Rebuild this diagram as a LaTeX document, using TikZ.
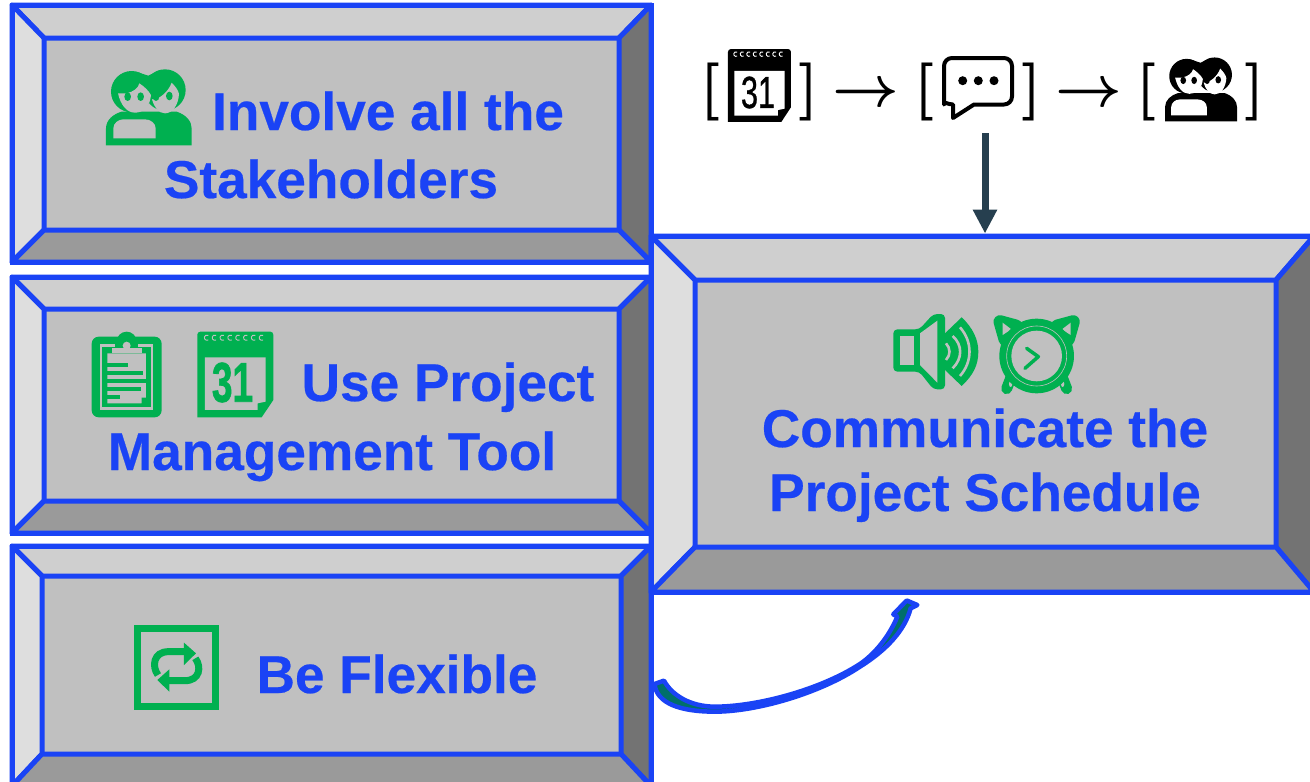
\documentclass[tikz,border=0pt]{standalone}
\usepackage{fontspec}
\setmainfont{Liberation Sans}[BoldFeatures={FakeBold=0.4}]
\newfontfamily\heavyfont{Liberation Sans}[BoldFeatures={FakeBold=1.5}]
\newfontfamily\midfont{Liberation Sans}[FakeBold=1]
\usetikzlibrary{arrows.meta,fit,calc}
\definecolor{bblue}{HTML}{1A43F5}
\definecolor{igreen}{HTML}{00B050}
\definecolor{ftop}{HTML}{CFCFCF}
\definecolor{fleft}{HTML}{DEDEDE}
\definecolor{fmid}{HTML}{C0C0C0}
\definecolor{fright}{HTML}{737373}
\definecolor{fbot}{HTML}{9A9A9A}
\definecolor{darrow}{HTML}{263F4F}
\definecolor{tealfill}{HTML}{006F6A}
\newcommand\heavymath[1]{\hbox{\boldmath$#1$}}
\tikzset{
  face/.style={draw=bblue,line width=5pt,line join=round},
  boxframe/.style={draw=bblue,line width=5pt,inner sep=0pt,rectangle},
  boxtext/.style={anchor=base,text=bblue,font=\fontsize{53.2}{60}\selectfont\bfseries,inner sep=0pt},
  mathmark/.style={scale=5.8,inner sep=0pt,text=black},
  bracketmark/.style={xscale=6.6,yscale=5.8,inner sep=0pt,text=black},
}
\newcommand\bevelbox[9]{%
  \fill[fmid] (#6,#7) rectangle (#8,#9);
  \path[face,fill=ftop] (#2,#3) -- (#4,#3) -- (#8,#7) -- (#6,#7) -- cycle;
  \path[face,fill=fleft] (#2,#3) -- (#6,#7) -- (#6,#9) -- (#2,#5) -- cycle;
  \path[face,fill=fright] (#4,#3) -- (#8,#7) -- (#8,#9) -- (#4,#5) -- cycle;
  \path[face,fill=fbot] (#2,#5) -- (#6,#9) -- (#8,#9) -- (#4,#5) -- cycle;
  \coordinate (#1tl) at (#2,#3);
  \coordinate (#1br) at (#4,#5);
  \node[boxframe,fit=(#1tl)(#1br)] (#1) {};
}
% people icon, drawn in the 3x coordinates of the crop
\newcommand\peopleicon[5]{%
  \begin{scope}[shift={(#1,#2)},scale=#3]
    \fill[#4] (155,95) circle[radius=62];
    \fill[#4] (255,90) circle[radius=62];
    \fill[#4] (170,36) -- (205,47) -- (240,30) -- (205,90) -- cycle;
    \fill[#4] (78,256) -- (78,205) .. controls (78,180) and (100,162) .. (125,155)
      -- (290,155) .. controls (320,165) and (335,185) .. (335,205) -- (335,256) -- cycle;
    \fill[#5] (114,100) -- (140,100) .. controls (160,95) and (175,85) .. (178,70)
      .. controls (190,78) and (205,90) .. (213,105)
      .. controls (210,140) and (190,158) .. (165,158)
      .. controls (140,158) and (122,135) .. (114,100) -- cycle;
    \fill[#5] (216,118) .. controls (240,118) and (265,95) .. (275,68)
      .. controls (285,78) and (295,90) .. (297,102)
      .. controls (295,135) and (278,160) .. (255,160)
      .. controls (235,160) and (222,140) .. (216,118) -- cycle;
    \fill[#4] (143,110) ellipse[x radius=10,y radius=13];
    \fill[#4] (182,110) ellipse[x radius=10,y radius=13];
    \fill[#4] (228,110) ellipse[x radius=10,y radius=13];
    \fill[#4] (268,108) ellipse[x radius=10,y radius=13];
    \fill[#5] (100,235) -- (100,205) .. controls (100,190) and (115,178) .. (130,178)
      -- (195,178) .. controls (212,178) and (227,190) .. (227,205) -- (227,235) -- cycle;
  \end{scope}
}
% calendar icon, drawn in the 3x coordinates of the crop
\newcommand\calicon[6]{%
  \begin{scope}[shift={(#1,#2)},xscale=#3,yscale=#4]
    \fill[#5,rounded corners=3pt] (352,292) -- (352,35) -- (580,35) -- (580,150) [sharp corners] -- (580,240) -- (545,292) -- cycle;
    \fill[#6] (375,270) -- (375,112) -- (557,112) -- (557,245) -- (533,250) -- (533,270) -- cycle;
    \foreach \k in {0,...,7}{
      \draw[#6,line width=0.9pt] ({385+\k*23.5},60) arc[start angle=60,end angle=300,radius=8];
    }
  \end{scope}
}
\begin{document}
\begin{tikzpicture}[x=1pt,y=-1pt]
\useasboundingbox (0,0) rectangle (1310,782);
\clip (0,0) rectangle (1310,782);
\fill[white] (0,0) rectangle (1310,782);

\bevelbox{boxa}{12}{5}{651}{262}{44}{38}{619}{230}
\bevelbox{boxb}{12}{277}{651}{533}{44}{309}{619}{501}
\bevelbox{boxc}{12}{546}{651}{786}{42}{576}{621}{754}
\bevelbox{boxd}{651}{236}{1314}{592}{695}{280}{1276}{547}

% box texts
\node[boxtext] (t1) at (388,130) {Involve all the};
\node[boxtext] (t2) at (331,198) {Stakeholders};
\node[boxtext] (t3) at (448,401) {Use Project};
\node[boxtext] (t4) at (332,470) {Management Tool};
\node[boxtext] (t5) at (397,693) {Be Flexible};
\node[boxtext] (t6) at (985,447) {Communicate the};
\node[boxtext] (t7) at (985,511) {Project Schedule};

% green icons
\peopleicon{80}{60}{0.3333}{igreen}{fmid}
\calicon{80}{320}{0.3333}{0.3333}{igreen}{fmid}
\node[text=igreen,font=\fontsize{56}{56}\selectfont\heavyfont\bfseries,xscale=.66,inner sep=0pt] (g31) at (232.5,382.5) {31};

% clipboard
\begin{scope}[shift={(80,320)},scale=0.3333]
  \fill[igreen,rounded corners=7pt] (35,50) rectangle (245,292);
  \fill[igreen] (140,65) circle[radius=30];
  \draw[fmid,line width=2.4pt] (62.5,77) rectangle (216,266);
  \fill[igreen] (105,60) rectangle (175,90);
  \fill[fmid] (82,100) -- (198,100) -- (198,233) -- (185,250) -- (82,250) -- cycle;
  \fill[igreen] (185,258) -- (185,233) -- (200,233) -- cycle;
  \fill[fmid] (97,85) rectangle (185,98);
  \fill[fmid] (140,77) circle[radius=12];
  \fill[igreen] (82,130) rectangle (143,142);
  \fill[igreen] (82,153) rectangle (190,165);
  \fill[igreen] (82,177) rectangle (198,189);
  \fill[igreen] (82,200) rectangle (182,212);
  \fill[igreen] (82,224) rectangle (120,236);
\end{scope}

% repeat icon
\begin{scope}[shift={(120,610)},scale=0.3333]
  \draw[igreen,line width=7pt] (52.5,54.5) rectangle (287.5,289.5);
  \draw[igreen,line width=7pt] (114,195) .. controls (95,170) and (100,125) .. (145,125) -- (195,125);
  \fill[igreen] (192,98) -- (228,130) -- (192,165) -- cycle;
  \draw[igreen,line width=7pt] (226,145) .. controls (245,170) and (240,212) .. (195,212) -- (145,212);
  \fill[igreen] (148,178) -- (112,210) -- (148,245) -- cycle;
\end{scope}

% speaker and clock
\begin{scope}[shift={(880,300)},scale=0.3333]
  \fill[igreen,rounded corners=4pt] (40,88) -- (118,88) -- (160,42) -- (195,42) -- (195,268) -- (160,268) -- (118,215) -- (40,215) -- cycle;
  \fill[fmid] (60,108) rectangle (102,195);
  \fill[fmid] (120,100) -- (172,62) -- (172,248) -- (120,195) -- cycle;
  \fill[igreen] (195,100) -- (245,52) .. controls (280,85) and (295,120) .. (295,155)
     .. controls (295,195) and (280,225) .. (245,258) -- (195,210) -- cycle;
  \draw[fmid,line width=2.6pt] (240,82) .. controls (278,125) and (278,185) .. (240,228);
  \draw[fmid,line width=2.6pt] (218,108) .. controls (248,135) and (248,175) .. (218,205);
  \draw[fmid,line width=2.6pt] (198,130) .. controls (212,145) and (212,165) .. (198,180);
  % clock
  \foreach \s in {-1,1}{
    \begin{scope}[shift={(470,0)},xscale=\s]
      \draw[igreen,line width=13pt,line join=round,fill=igreen] (-110,65) -- (-62,78) -- (-95,118) -- cycle;
      \fill[fmid] (-102,68) -- (-76,88) -- (-102,105) -- cycle;
      \draw[igreen,line width=11pt,line cap=round] (-78,235) -- (-90,266);
      \fill[fmid] (-78,252) ellipse[x radius=5,y radius=9];
    \end{scope}
  }
  \fill[igreen] (470,168) circle[radius=112];
  \fill[fmid] (470,168) circle[radius=76];
  \draw[fmid,line width=0.6pt] (470,168) circle[radius=90];
  \draw[igreen,line width=3.5pt,line cap=round,line join=round] (440,145) -- (475,170) -- (435,205);
\end{scope}

% top row
\node[bracketmark] (b1) at (710.5,91.5) {\heavymath{\mathbf{[}}};
\node[bracketmark] (b2) at (809.5,91.5) {\heavymath{\mathbf{]}}};
\node[mathmark] (a1) at (865.5,95) {\heavymath{\rightarrow}};
\node[bracketmark] (b3) at (924.5,91.5) {\heavymath{\mathbf{[}}};
\node[bracketmark] (b4) at (1032.5,91.5) {\heavymath{\mathbf{]}}};
\node[mathmark] (a2) at (1089,95) {\heavymath{\rightarrow}};
\node[bracketmark] (b5) at (1146.5,91.5) {\heavymath{\mathbf{[}}};
\node[bracketmark] (b6) at (1255,91.5) {\heavymath{\mathbf{]}}};

\calicon{630.7}{39.06}{0.2763}{0.284}{black}{white}
\node[text=black,font=\fontsize{45}{45}\selectfont\midfont,xscale=.68,inner sep=0pt] (k31) at (758,92.5) {31};

% chat bubble
\draw[black,line width=4pt,line join=round,rounded corners=8pt]
  (974,104.5) -- (1012,104.5) -- (1012,58) -- (944,58) -- (944,96.5) [sharp corners]
  .. controls (944,101) and (948,104.5) .. (953,104.5) -- (953,118) -- cycle;
\fill[black] (962.7,80.7) circle[radius=4.5];
\fill[black] (978.3,80.7) circle[radius=4.5];
\fill[black] (994,80.7) circle[radius=4.5];

\peopleicon{1143.2}{49.6}{0.28}{black}{white}

% connectors
\coordinate (downstart) at (985,133);
\draw[darrow,line width=7pt,-{Triangle[length=24pt,width=23pt]}] (downstart) -- (boxd.north -| downstart);

\coordinate (cstart) at ($(boxc.east)+(1,18)$);
\coordinate (cend) at ($(boxd.south)+(-75.8,6)$);
\begin{scope}[shift={(640,580)},scale=0.3333]
  \draw[bblue,line width=4.5pt,fill=tealfill,line join=round]
    (cstart) -- (72,302) .. controls (95,345) and (150,380) .. (225,380)
    .. controls (350,380) and (540,330) .. (660,252)
    .. controls (700,225) and (745,175) .. (772,110)
    -- (760,103) -- (cend) -- (832,75) -- (812,85)
    .. controls (795,150) and (740,210) .. (660,260)
    .. controls (540,340) and (350,395) .. (225,395)
    .. controls (120,395) and (50,370) .. (cstart) -- cycle;
\end{scope}
\end{tikzpicture}
\end{document}
